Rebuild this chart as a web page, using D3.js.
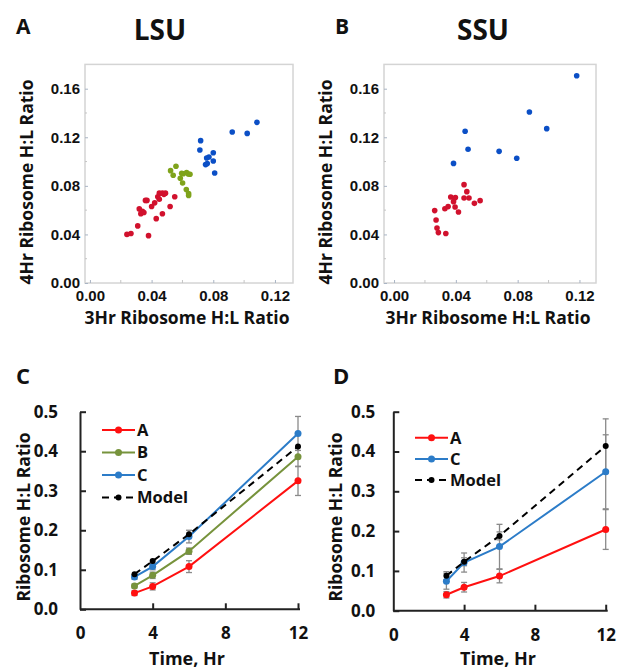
<!DOCTYPE html>
<html>
<head>
<meta charset="utf-8">
<script src="https://cdn.jsdelivr.net/npm/d3@7"></script>
<style>
  body { margin: 0; background: #fff; }
  text { font-family: "Open Sans", sans-serif; font-weight: bold; fill: #111; }
</style>
</head>
<body>
<script>
// scatter data: [3Hr ratio, 4Hr ratio]
const lsuRed = [
  [0.024, 0.040], [0.0266, 0.0407], [0.038, 0.039], [0.031, 0.047], [0.043, 0.053],
  [0.047, 0.057], [0.032, 0.061], [0.034, 0.059], [0.033, 0.057], [0.035, 0.058],
  [0.036, 0.068], [0.037, 0.068], [0.040, 0.063], [0.042, 0.066], [0.044, 0.071],
  [0.045, 0.074], [0.047, 0.074], [0.048, 0.073], [0.049, 0.074], [0.045, 0.069],
  [0.052, 0.063], [0.055, 0.071]
];
const lsuGreen = [
  [0.0523, 0.0925], [0.0558, 0.0961], [0.054, 0.0887], [0.0586, 0.0862], [0.0595, 0.0903],
  [0.0601, 0.0823], [0.0625, 0.0769], [0.064, 0.0736], [0.064, 0.072], [0.0605, 0.090],
  [0.0627, 0.0909], [0.0638, 0.0897], [0.0649, 0.0895]
];
const lsuBlue = [
  [0.0718, 0.1172], [0.0713, 0.1095], [0.080, 0.1073], [0.0772, 0.1037], [0.0757, 0.1029],
  [0.075, 0.0975], [0.080, 0.1004], [0.0761, 0.0983], [0.0809, 0.0906], [0.0923, 0.1243],
  [0.102, 0.1232], [0.1083, 0.1323]
];
const ssuRed = [
  [0.0263, 0.0596], [0.0272, 0.0519], [0.0278, 0.0453], [0.0287, 0.0415], [0.0335, 0.0407],
  [0.0329, 0.0612], [0.035, 0.0629], [0.0367, 0.0708], [0.0385, 0.067], [0.0397, 0.0703],
  [0.0395, 0.0626], [0.0417, 0.0585], [0.0453, 0.081], [0.0471, 0.0752], [0.0453, 0.070],
  [0.0485, 0.070], [0.052, 0.0656], [0.0557, 0.0678]
];
const ssuBlue = [
  [0.1182, 0.1707], [0.0876, 0.1408], [0.0988, 0.1271], [0.046, 0.1249], [0.0479, 0.1101],
  [0.068, 0.1084], [0.0794, 0.1027], [0.0385, 0.0985]
];
const scatterTicks = [0, 0.04, 0.08, 0.12, 0.16];
const scatterMinor = [0.02, 0.06, 0.10, 0.14];

// time course data
const hours = [3, 4, 6, 12];
const timeTicks = [0, 4, 8, 12];
const ratioTicks = [0, 0.1, 0.2, 0.3, 0.4, 0.5];

const lsuA = [0.041, 0.058, 0.108, 0.325];
const lsuAErr = [0.006, 0.009, 0.015, 0.037];
const lsuB = [0.059, 0.086, 0.147, 0.386];
const lsuBErr = [0.005, 0.008, 0.008, 0.025];
const lsuC = [0.082, 0.108, 0.184, 0.445];
const lsuCErr = [0.006, 0.008, 0.016, 0.043];
const lsuModel = [0.089, 0.122, 0.190, 0.412];

const ssuA = [0.040, 0.059, 0.087, 0.204];
const ssuAErr = [0.008, 0.012, 0.017, 0.050];
const ssuC = [0.074, 0.121, 0.161, 0.349];
const ssuCErr = [0.020, 0.024, 0.056, 0.093];
const ssuModel = [0.088, 0.123, 0.188, 0.414];
const ssuModelErr = [0.010, 0.010, 0.010, 0.068];

const svg = d3.select('body').append('svg')
  .attr('width', 621)
  .attr('height', 669);

// ---------- scatter panels (A, B) ----------
function scatterPanel(cfg) {
  const x = d3.scaleLinear().domain(cfg.xDomain).range([cfg.left, cfg.right]);
  const y = d3.scaleLinear().domain([0, 0.18]).range([283, 64.4]);

  // box
  svg.append('rect')
    .attr('x', cfg.left).attr('y', 64.4)
    .attr('width', cfg.right - cfg.left).attr('height', 283 - 64.4)
    .attr('fill', 'none').attr('stroke', '#d4d4d4').attr('stroke-width', 1.5);

  const yAxis = svg.append('g')
    .attr('transform', `translate(${cfg.left},0)`)
    .call(d3.axisLeft(y).tickValues(scatterTicks).tickFormat(d3.format('.2f'))
      .tickSizeInner(-3).tickSizeOuter(0).tickPadding(5));
  const xAxis = svg.append('g')
    .attr('transform', 'translate(0,283)')
    .call(d3.axisBottom(x).tickValues(scatterTicks.slice(0, 4)).tickFormat(d3.format('.2f'))
      .tickSizeInner(-3).tickSizeOuter(0).tickPadding(7));
  [xAxis, yAxis].forEach(g => {
    g.select('.domain').remove();
    g.selectAll('line').attr('stroke', '#a9b4c4');
    g.selectAll('text')
      .style('font-family', '"Liberation Sans", Arial, sans-serif')
      .style('font-size', '15px')
      .attr('fill', '#111');
  });

  // minor ticks
  svg.append('g').selectAll('line').data(scatterMinor.slice(0, 3)).join('line')
    .attr('x1', d => x(d)).attr('x2', d => x(d))
    .attr('y1', 283).attr('y2', 280)
    .attr('stroke', '#c4c4c4');
  svg.append('g').selectAll('line').data(scatterMinor).join('line')
    .attr('x1', cfg.left).attr('x2', cfg.left + 2)
    .attr('y1', d => y(d)).attr('y2', d => y(d))
    .attr('stroke', '#c4c4c4');

  cfg.groups.forEach(grp => {
    svg.append('g').selectAll('circle').data(grp.data).join('circle')
      .attr('cx', d => x(d[0]))
      .attr('cy', d => y(d[1]))
      .attr('r', 2.8)
      .attr('fill', grp.color);
  });

  // titles
  svg.append('text').attr('x', cfg.letterX).attr('y', 34)
    .style('font-size', '21px').text(cfg.letter);
  svg.append('text').attr('x', cfg.titleX).attr('y', 40)
    .attr('text-anchor', 'middle').style('font-size', '28px').text(cfg.title);
  svg.append('text')
    .attr('transform', `translate(${cfg.left - 58},182) rotate(-90)`)
    .attr('text-anchor', 'middle').attr('dy', '0.35em')
    .style('font-size', '17.5px').text('4Hr Ribosome H:L Ratio');
  svg.append('text').attr('x', (cfg.left + cfg.right) / 2 - 2).attr('y', 324)
    .attr('text-anchor', 'middle')
    .style('font-size', '17.5px').text('3Hr Ribosome H:L Ratio');
}

scatterPanel({
  left: 85, right: 293, xDomain: [-0.0032, 0.1317],
  letter: 'A', letterX: 16, title: 'LSU', titleX: 160,
  groups: [
    { data: lsuRed, color: '#d1112d' },
    { data: lsuGreen, color: '#7fa31b' },
    { data: lsuBlue, color: '#0b4fc6' }
  ]
});
scatterPanel({
  left: 384, right: 596, xDomain: [-0.0065, 0.1307],
  letter: 'B', letterX: 335, title: 'SSU', titleX: 483,
  groups: [
    { data: ssuRed, color: '#d1112d' },
    { data: ssuBlue, color: '#0b4fc6' }
  ]
});

// ---------- time course panels (C, D) ----------
function timePanel(cfg) {
  const x = d3.scaleLinear().domain([0, 12]).range([cfg.left, cfg.right]);
  const y = d3.scaleLinear().domain([0, 0.5]).range([cfg.bottom, cfg.top]);

  const yAxis = svg.append('g')
    .attr('transform', `translate(${cfg.left},0)`)
    .call(d3.axisLeft(y).tickValues(ratioTicks).tickFormat(d3.format('.1f'))
      .tickSizeInner(-6).tickSizeOuter(0).tickPadding(cfg.yPad));
  const xAxis = svg.append('g')
    .attr('transform', `translate(0,${cfg.bottom})`)
    .call(d3.axisBottom(x).tickValues(timeTicks)
      .tickSizeInner(-6).tickSizeOuter(0).tickPadding(18));
  [xAxis, yAxis].forEach(g => {
    g.select('.domain').attr('stroke', '#222').attr('stroke-width', 2);
    g.selectAll('line').attr('stroke', '#222').attr('stroke-width', 2);
    g.selectAll('text')
      .style('font-family', '"Open Sans", sans-serif')
      .style('font-weight', 'bold')
      .style('font-size', '17px')
      .attr('fill', '#111');
  });
  xAxis.selectAll('.tick').filter(d => d === 0).select('line').remove();
  xAxis.select('.domain').attr('d', `M${cfg.left},0H${cfg.right + 2}`);

  // error bars
  cfg.series.filter(s => s.err).forEach(s => {
    const g = svg.append('g').attr('stroke', '#8a8a8a').attr('stroke-width', 1.3);
    hours.forEach((h, i) => {
      const hi = y(s.values[i] + s.err[i]), lo = y(s.values[i] - s.err[i]);
      g.append('line').attr('x1', x(h)).attr('x2', x(h)).attr('y1', hi).attr('y2', lo);
      g.append('line').attr('x1', x(h) - 3).attr('x2', x(h) + 3).attr('y1', hi).attr('y2', hi);
      g.append('line').attr('x1', x(h) - 3).attr('x2', x(h) + 3).attr('y1', lo).attr('y2', lo);
    });
  });

  const line = d3.line().x((d, i) => x(hours[i])).y(d => y(d));
  cfg.series.forEach(s => {
    svg.append('path').datum(s.values)
      .attr('d', line)
      .attr('fill', 'none')
      .attr('stroke', s.color)
      .attr('stroke-width', 2)
      .attr('stroke-dasharray', s.dash || null);
    svg.append('g').selectAll('circle').data(s.values).join('circle')
      .attr('cx', (d, i) => x(hours[i]))
      .attr('cy', d => y(d))
      .attr('r', s.r)
      .attr('fill', s.color);
  });

  // legend
  cfg.series.forEach((s, i) => {
    const ly = cfg.legendY + i * cfg.legendGap;
    const lg = svg.append('g');
    lg.append('line').attr('x1', cfg.legendX).attr('x2', cfg.legendX + 33)
      .attr('y1', ly).attr('y2', ly)
      .attr('stroke', s.color).attr('stroke-width', 2)
      .attr('stroke-dasharray', s.dash || null);
    lg.append('circle').attr('cx', cfg.legendX + 16.5).attr('cy', ly).attr('r', s.r).attr('fill', s.color);
    lg.append('text').attr('x', cfg.legendX + 35).attr('y', ly).attr('dy', '0.36em')
      .style('font-size', '16.5px').text(s.name);
  });

  svg.append('text').attr('x', cfg.letterX).attr('y', 384)
    .style('font-size', '22px').text(cfg.letter);
  svg.append('text')
    .attr('transform', `translate(${cfg.titleYX},517) rotate(-90)`)
    .attr('text-anchor', 'middle').attr('dy', '0.35em')
    .style('font-size', '17.5px').text('Ribosome H:L Ratio');
  svg.append('text').attr('x', cfg.titleXX).attr('y', 665)
    .attr('text-anchor', 'middle')
    .style('font-size', '18px').text('Time, Hr');
}

timePanel({
  left: 80, right: 298, top: 411.7, bottom: 609.3, yPad: 22,
  letter: 'C', letterX: 16, titleYX: 24, titleXX: 187,
  legendX: 102, legendY: 430, legendGap: 22.5,
  series: [
    { name: 'A', values: lsuA, err: lsuAErr, color: '#ff1010', r: 3.5 },
    { name: 'B', values: lsuB, err: lsuBErr, color: '#77933c', r: 3.5 },
    { name: 'C', values: lsuC, err: lsuCErr, color: '#2c7cc8', r: 3.5 },
    { name: 'Model', values: lsuModel, color: '#000', r: 3, dash: '7,5' }
  ]
});
timePanel({
  left: 393.3, right: 605.7, top: 411.7, bottom: 610.7, yPad: 18,
  letter: 'D', letterX: 333, titleYX: 336, titleXX: 498,
  legendX: 415, legendY: 437.7, legendGap: 21.2,
  series: [
    { name: 'A', values: ssuA, err: ssuAErr, color: '#ff1010', r: 3.5 },
    { name: 'C', values: ssuC, err: ssuCErr, color: '#2c7cc8', r: 3.5 },
    { name: 'Model', values: ssuModel, err: ssuModelErr, color: '#000', r: 3, dash: '7,5' }
  ]
});
</script>
</body>
</html>
